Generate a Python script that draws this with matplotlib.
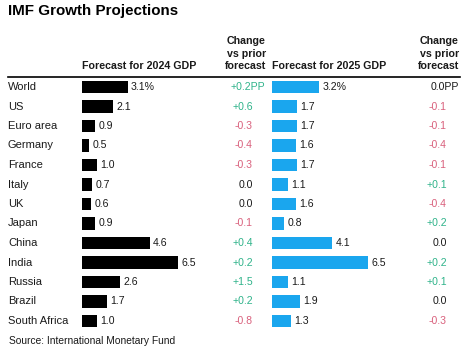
import matplotlib.pyplot as plt
import matplotlib.transforms as mtransforms

plt.rcParams['font.family'] = ['Liberation Sans', 'DejaVu Sans']

countries = ['World', 'US', 'Euro area', 'Germany', 'France', 'Italy', 'UK',
             'Japan', 'China', 'India', 'Russia', 'Brazil', 'South Africa']
gdp_2024 = [3.1, 2.1, 0.9, 0.5, 1.0, 0.7, 0.6, 0.9, 4.6, 6.5, 2.6, 1.7, 1.0]
chg_2024 = [0.2, 0.6, -0.3, -0.4, -0.3, 0.0, 0.0, -0.1, 0.4, 0.2, 1.5, 0.2, -0.8]
gdp_2025 = [3.2, 1.7, 1.7, 1.6, 1.7, 1.1, 1.6, 0.8, 4.1, 6.5, 1.1, 1.9, 1.3]
chg_2025 = [0.0, -0.1, -0.1, -0.4, -0.1, 0.1, -0.4, 0.2, 0.0, 0.2, 0.1, 0.0, -0.3]

W, H = 464, 351
GREEN = '#2fb38a'
RED = '#d9607c'
BLUE = '#1aa6ee'
TXT = '#1a1a1a'

fig = plt.figure(figsize=(W / 100, H / 100), dpi=100)

pitch = 19.5
top_px = 87 - pitch / 2
n = len(countries)
bot_px = top_px + n * pitch
px_per_unit = 14.7
ax_w = 120

def make_ax(left_px):
    ax = fig.add_axes([left_px / W, 1 - bot_px / H, ax_w / W, (bot_px - top_px) / H])
    ax.set_xlim(0, ax_w / px_per_unit)
    ax.set_ylim(n - 0.5, -0.5)
    ax.axis('off')
    return ax

ax1 = make_ax(82)
ax2 = make_ax(272)
rows = list(range(n))
ax1.barh(rows, gdp_2024, height=0.64, color='black')
ax2.barh(rows, gdp_2025, height=0.64, color=BLUE)

off = 3.5 / px_per_unit
for i in rows:
    s1 = f'{gdp_2024[i]:.1f}' + ('%' if i == 0 else '')
    s2 = f'{gdp_2025[i]:.1f}' + ('%' if i == 0 else '')
    ax1.text(gdp_2024[i] + off, i, s1, va='center', ha='left', fontsize=7.6, color=TXT)
    ax2.text(gdp_2025[i] + off, i, s2, va='center', ha='left', fontsize=7.6, color=TXT)

tr = mtransforms.blended_transform_factory(fig.transFigure, ax1.transData)

def chg_color(v):
    if v > 0:
        return GREEN
    if v < 0:
        return RED
    return TXT

def fmt(v):
    if v > 0:
        return f'+{v:.1f}'
    if v < 0:
        return f'-{abs(v):.1f}'
    return '0.0'

for i in rows:
    fig.text(8 / W, i, countries[i], transform=tr, va='center', ha='left', fontsize=8, color=TXT)
    for x_px, v in ((253, chg_2024[i]), (447, chg_2025[i])):
        s = fmt(v)
        if i == 0:
            s += 'PP'
            x_px += 12
        fig.text(x_px / W, i, s, transform=tr, va='center', ha='right',
                 fontsize=7.6, color=chg_color(v))

# title and headers
fig.text(8 / W, 1 - 4 / H, 'IMF Growth Projections', ha='left', va='top',
         fontsize=10.9, fontweight='bold', color='black')
hy = 1 - 71 / H
fig.text(82 / W, hy, 'Forecast for 2024 GDP', ha='left', va='bottom', fontsize=7.7,
         fontweight='bold', color=TXT)
fig.text(272 / W, hy, 'Forecast for 2025 GDP', ha='left', va='bottom', fontsize=7.7,
         fontweight='bold', color=TXT)
for x_px in (266, 459):
    fig.text(x_px / W, hy, 'Change\nvs prior\nforecast', ha='right', va='bottom',
             multialignment='right', fontsize=7.7, fontweight='bold', color=TXT,
             linespacing=1.3)

fig.add_artist(plt.Line2D([8 / W, 460 / W], [1 - 77 / H, 1 - 77 / H],
                          color='black', lw=1.2, transform=fig.transFigure))

fig.text(9 / W, 1 - 341 / H, 'Source: International Monetary Fund', ha='left',
         va='center', fontsize=7.4, color=TXT)

fig.savefig('out.png', dpi=100, facecolor='white')
